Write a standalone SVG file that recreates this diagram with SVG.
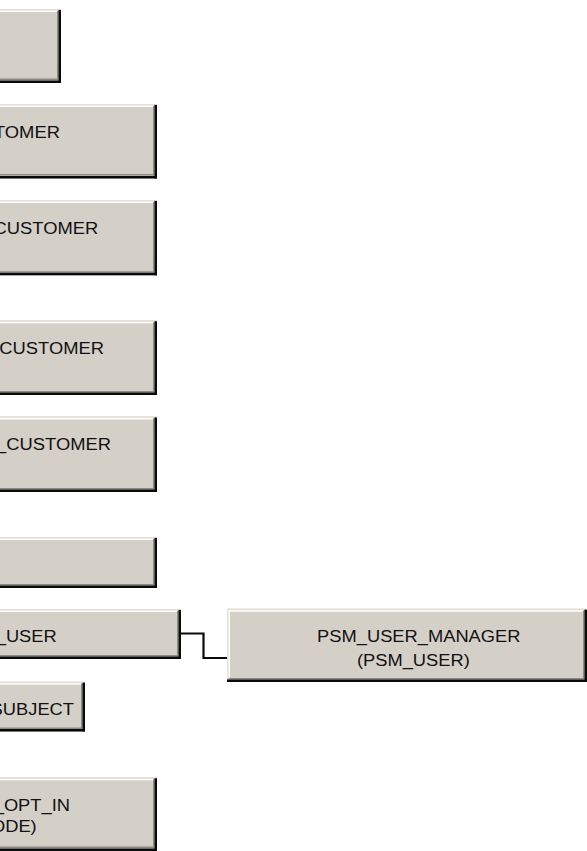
<svg xmlns="http://www.w3.org/2000/svg" width="587" height="851" viewBox="0 0 587 851">
<style>
.fill{fill:#d4d0c8}
.hl1{fill:#e4e1da}
.hl2{fill:#ffffff}
.sh1{fill:#8c8a86}
.sh2{fill:#0a0a0a}
.lbl{font-family:"Liberation Sans",Arial,sans-serif;font-size:16px;fill:#111111}
.conn{fill:none;stroke:#0a0a0a;stroke-width:2.2}
</style>
<rect width="587" height="851" fill="#ffffff"/>
<g id="box1">
<rect class="fill" x="-100" y="9" width="161" height="74"/>
<rect class="hl1" x="-100" y="9" width="158" height="1.5"/>
<rect class="hl2" x="-100" y="10.5" width="157" height="1.5"/>
<rect class="sh1" x="57" y="11" width="1.5" height="69"/>
<rect class="sh1" x="-100" y="78.5" width="158" height="1.5"/>
<rect class="sh2" x="58.5" y="10" width="2.5" height="73"/>
<rect class="sh2" x="-100" y="80.5" width="161" height="2.5"/>
</g>
<g id="box2">
<rect class="fill" x="-100" y="104" width="257" height="74.5"/>
<rect class="hl1" x="-100" y="104" width="254" height="1.5"/>
<rect class="hl2" x="-100" y="105.5" width="253" height="1.5"/>
<rect class="sh1" x="153" y="106" width="1.5" height="70"/>
<rect class="sh1" x="-100" y="174" width="254" height="1.5"/>
<rect class="sh2" x="154.5" y="105" width="2.5" height="73.5"/>
<rect class="sh2" x="-100" y="176" width="257" height="2.5"/>
<text class="lbl" x="-6.1" y="138.3" textLength="66.1" lengthAdjust="spacingAndGlyphs">TOMER</text>
</g>
<g id="box3">
<rect class="fill" x="-100" y="200" width="257" height="75.3"/>
<rect class="hl1" x="-100" y="200" width="254" height="1.5"/>
<rect class="hl2" x="-100" y="201.5" width="253" height="1.5"/>
<rect class="sh1" x="153" y="202" width="1.5" height="70.8"/>
<rect class="sh1" x="-100" y="271.3" width="254" height="1.5"/>
<rect class="sh2" x="154.5" y="201" width="2.5" height="74.3"/>
<rect class="sh2" x="-100" y="272.8" width="257" height="2.5"/>
<text class="lbl" x="-6.4" y="233.8" textLength="104.7" lengthAdjust="spacingAndGlyphs">CUSTOMER</text>
</g>
<g id="box4">
<rect class="fill" x="-100" y="320.3" width="257" height="74.7"/>
<rect class="hl1" x="-100" y="320.3" width="254" height="1.5"/>
<rect class="hl2" x="-100" y="321.8" width="253" height="1.5"/>
<rect class="sh1" x="153" y="322.3" width="1.5" height="70.2"/>
<rect class="sh1" x="-100" y="391" width="254" height="1.5"/>
<rect class="sh2" x="154.5" y="321.3" width="2.5" height="73.7"/>
<rect class="sh2" x="-100" y="392.5" width="257" height="2.5"/>
<text class="lbl" x="-0.7" y="353.8" textLength="104.7" lengthAdjust="spacingAndGlyphs">CUSTOMER</text>
</g>
<g id="box5">
<rect class="fill" x="-100" y="416.5" width="257" height="75.5"/>
<rect class="hl1" x="-100" y="416.5" width="254" height="1.5"/>
<rect class="hl2" x="-100" y="418" width="253" height="1.5"/>
<rect class="sh1" x="153" y="418.5" width="1.5" height="71"/>
<rect class="sh1" x="-100" y="488" width="254" height="1.5"/>
<rect class="sh2" x="154.5" y="417.5" width="2.5" height="74.5"/>
<rect class="sh2" x="-100" y="489.5" width="257" height="2.5"/>
<text class="lbl" x="-3.9" y="449.8" textLength="114.9" lengthAdjust="spacingAndGlyphs">_CUSTOMER</text>
</g>
<g id="box6">
<rect class="fill" x="-100" y="537" width="257" height="51"/>
<rect class="hl1" x="-100" y="537" width="254" height="1.5"/>
<rect class="hl2" x="-100" y="538.5" width="253" height="1.5"/>
<rect class="sh1" x="153" y="539" width="1.5" height="46.5"/>
<rect class="sh1" x="-100" y="584" width="254" height="1.5"/>
<rect class="sh2" x="154.5" y="538" width="2.5" height="50"/>
<rect class="sh2" x="-100" y="585.5" width="257" height="2.5"/>
</g>
<g id="box7">
<rect class="fill" x="-100" y="609" width="281" height="50"/>
<rect class="hl1" x="-100" y="609" width="278" height="1.5"/>
<rect class="hl2" x="-100" y="610.5" width="277" height="1.5"/>
<rect class="sh1" x="177" y="611" width="1.5" height="45.5"/>
<rect class="sh1" x="-100" y="655" width="278" height="1.5"/>
<rect class="sh2" x="178.5" y="610" width="2.5" height="49"/>
<rect class="sh2" x="-100" y="656.5" width="281" height="2.5"/>
<text class="lbl" x="-4.3" y="642.2" textLength="61" lengthAdjust="spacingAndGlyphs">_USER</text>
</g>
<g id="box8">
<rect class="fill" x="-100" y="681.7" width="185" height="49.8"/>
<rect class="hl1" x="-100" y="681.7" width="182" height="1.5"/>
<rect class="hl2" x="-100" y="683.2" width="181" height="1.5"/>
<rect class="sh1" x="81" y="683.7" width="1.5" height="45.3"/>
<rect class="sh1" x="-100" y="727.5" width="182" height="1.5"/>
<rect class="sh2" x="82.5" y="682.7" width="2.5" height="48.8"/>
<rect class="sh2" x="-100" y="729" width="185" height="2.5"/>
<text class="lbl" x="-9.4" y="714.5" textLength="83.4" lengthAdjust="spacingAndGlyphs">SUBJECT</text>
</g>
<g id="box9">
<rect class="fill" x="-100" y="777.3" width="257" height="73.7"/>
<rect class="hl1" x="-100" y="777.3" width="254" height="1.5"/>
<rect class="hl2" x="-100" y="778.8" width="253" height="1.5"/>
<rect class="sh1" x="153" y="779.3" width="1.5" height="69"/>
<rect class="sh1" x="-100" y="846.5" width="254" height="1.5"/>
<rect class="sh2" x="154.5" y="778.3" width="2.5" height="72.7"/>
<rect class="sh2" x="-100" y="848.5" width="257" height="2.5"/>
<text class="lbl" x="-6.3" y="810.5" textLength="76.3" lengthAdjust="spacingAndGlyphs">_OPT_IN</text>
<text class="lbl" x="-9.05" y="832.2" textLength="45.75" lengthAdjust="spacingAndGlyphs">ODE)</text>
</g>
<g id="psm_user_manager">
<rect class="fill" x="227" y="608.7" width="360" height="73.3"/>
<rect class="hl1" x="227" y="608.7" width="357" height="1.5"/>
<rect class="hl1" x="227" y="608.7" width="1.5" height="70.8"/>
<rect class="hl2" x="228.5" y="610.2" width="355" height="1.5"/>
<rect class="hl2" x="228.5" y="610.2" width="1.5" height="67.8"/>
<rect class="sh1" x="583" y="610.7" width="1.5" height="68.8"/>
<rect class="sh1" x="228.5" y="678" width="356" height="1.5"/>
<rect class="sh2" x="584.5" y="609.7" width="2.5" height="72.3"/>
<rect class="sh2" x="227" y="679.5" width="360" height="2.5"/>
<text class="lbl" x="317.1" y="642.3" textLength="203.4" lengthAdjust="spacingAndGlyphs">PSM_USER_MANAGER</text>
<text class="lbl" x="356.9" y="665.6" textLength="112.9" lengthAdjust="spacingAndGlyphs">(PSM_USER)</text>
</g>
<g id="connectors">
<polyline class="conn" points="181,633.5 203.5,633.5 203.5,658 227,658"/>
</g>
</svg>
